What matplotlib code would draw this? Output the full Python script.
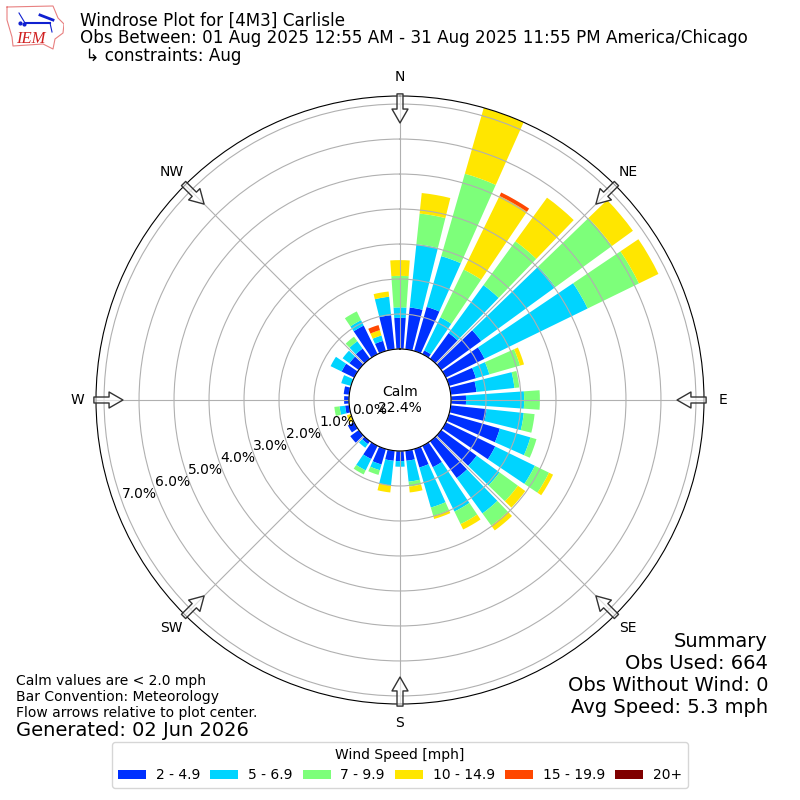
import numpy as np
import matplotlib
matplotlib.use("Agg")
import matplotlib.pyplot as plt

# direction of each bar, degrees
directions = np.arange(0, 360, 10)

# percent of obs per speed bin, per direction
bin_2_5 = [0.89, 1.20, 1.31, 0.12, 0.91, 1.41, 1.23, 0.80, 0.74, 0.43, 1.03, 1.51,
           1.57, 1.25, 1.30, 0.68, 0.55, 0.29, 0.29, 0.29, 0.46, 0.42, 0.10, 0.30,
           0.20, 0.00, 0.12, 0.14, 0.16, 0.00, 0.40, 0.33, 0.36, 0.91, 0.30, 0.98]
bin_5_7 = [0.30, 1.82, 1.51, 1.05, 1.69, 2.62, 3.28, 0.40, 1.09, 1.66, 1.07, 0.91,
           1.26, 0.81, 1.25, 1.41, 1.19, 0.60, 0.16, 0.71, 0.17, 0.36, 0.13, 0.00,
           0.00, 0.00, 0.16, 0.00, 0.00, 0.29, 0.35, 0.24, 0.26, 0.17, 0.16, 0.53]
bin_7_10 = [0.90, 0.88, 2.45, 1.52, 1.55, 2.00, 1.63, 0.91, 0.14, 0.45, 0.31, 0.18,
            0.45, 0.65, 0.43, 0.40, 0.25, 0.14, 0.00, 0.00, 0.14, 0.13, 0.00, 0.00,
            0.00, 0.00, 0.15, 0.00, 0.00, 0.00, 0.00, 0.00, 0.16, 0.28, 0.00, 0.00]
bin_10_15 = [0.45, 0.59, 1.96, 2.34, 1.54, 0.74, 0.62, 0.12, 0.00, 0.00, 0.00, 0.00,
             0.13, 0.26, 0.17, 0.17, 0.09, 0.17, 0.00, 0.20, 0.00, 0.00, 0.00, 0.00,
             0.00, 0.12, 0.00, 0.00, 0.00, 0.00, 0.00, 0.00, 0.00, 0.00, 0.16, 0.15]
bin_15_20 = [0.00, 0.00, 0.00, 0.11, 0.00, 0.00, 0.00, 0.00, 0.00, 0.00, 0.00, 0.00,
             0.00, 0.00, 0.00, 0.00, 0.00, 0.00, 0.00, 0.00, 0.00, 0.00, 0.00, 0.00,
             0.00, 0.00, 0.00, 0.00, 0.00, 0.00, 0.00, 0.00, 0.00, 0.00, 0.15, 0.00]
bin_20_up = [0.0] * 36

bins = [bin_2_5, bin_5_7, bin_7_10, bin_10_15, bin_15_20, bin_20_up]
bin_labels = ["2 - 4.9", "5 - 6.9", "7 - 9.9", "10 - 14.9", "15 - 19.9", "20+"]
bin_colors = ["#0030FF", "#00D4FF", "#7DFF7A", "#FFE600", "#FF4700", "#7F0000"]

compass = ["N", "NE", "E", "SE", "S", "SW", "W", "NW"]
ring_values = [0, 1, 2, 3, 4, 5, 6, 7]

fig = plt.figure(figsize=(8, 8), dpi=100)
ax = fig.add_axes([0.12, 0.12, 0.76, 0.76], projection="polar")
ax.set_theta_zero_location("N")
ax.set_theta_direction(-1)

# stack the bars
theta = np.radians(directions)
bottom = np.zeros(len(directions))
handles = []
for vals, label, color in zip(bins, bin_labels, bin_colors):
    bars = ax.bar(theta, vals, width=np.radians(8), bottom=bottom, color=color,
                  linewidth=0, label=label)
    handles.append(bars)
    bottom = bottom + np.array(vals)

ax.set_rorigin(-1.457)
ax.set_rlim(0, 7.23)
ax.set_yticks(ring_values)
ax.set_yticklabels(["%.1f%%" % v for v in ring_values], fontsize=10)
ax.set_rlabel_position(250)
ax.set_xticks(np.radians(np.arange(0, 360, 45)))
ax.set_xticklabels(compass, fontsize=10)
ax.tick_params(axis="x", pad=3)
ax.grid(True, color="#b0b0b0", linewidth=0.8)

# flow arrows around the edge
for ang in np.arange(0, 360, 45):
    ax.annotate("", xy=(np.radians(ang), 6.46), xytext=(np.radians(ang), 7.29),
                annotation_clip=False, zorder=5,
                arrowprops=dict(width=4.3, headwidth=11.5, headlength=10, shrink=0,
                                facecolor=(1, 1, 1, 0.6), edgecolor="#333333", linewidth=1))

ax.text(0.5, 0.5, "Calm\n22.4%", transform=ax.transAxes, ha="center", va="center",
        fontsize=10, zorder=6)

fig.text(0.1, 0.985, "Windrose Plot for [4M3] Carlisle", fontsize=12.02, va="top")
fig.text(0.1, 0.9635, "Obs Between: 01 Aug 2025 12:55 AM - 31 Aug 2025 11:55 PM America/Chicago",
         fontsize=12.02, va="top")
fig.text(0.1, 0.941, " \u21b3 constraints: Aug", fontsize=12.02, va="top")

fig.text(0.96, 0.104, "Summary\nObs Used: 664\nObs Without Wind: 0\nAvg Speed: 5.3 mph",
         fontsize=14, ha="right", va="bottom")
fig.text(0.02, 0.1, "Calm values are < 2.0 mph\nBar Convention: Meteorology\nFlow arrows relative to plot center.",
         fontsize=10, va="bottom")
fig.text(0.02, 0.075, "Generated: 02 Jun 2026", fontsize=14, va="bottom")

fig.legend(handles=handles, title="Wind Speed [mph]", ncol=6, loc="lower center",
           bbox_to_anchor=(0.5, 0.015), fontsize=10, title_fontsize=10, borderaxespad=0,
           handletextpad=0.7, columnspacing=0.75)

# IEM logo, drawn in pixel coordinates of its corner
logo = fig.add_axes([0, 0.92, 0.08, 0.08])
logo.set_xlim(0, 64)
logo.set_ylim(64, 0)
logo.axis("off")
outline_x = [7, 53, 58, 64, 63, 55, 53, 43, 13, 12, 7, 7]
outline_y = [7, 6, 18, 24, 33, 39, 49, 44, 46, 37, 20, 7]
logo.plot(outline_x, outline_y, color="#e88080", lw=0.8)
logo.plot([25, 50], [23, 23], color="#1020d0", lw=1.5)
logo.plot([19, 25], [13, 23], color="#1020d0", lw=0.8)
logo.plot([40, 53], [15, 20], color="#1020d0", lw=2)
logo.plot([50, 52], [23, 32], color="#1020d0", lw=0.8)
logo.plot([20, 24], [23, 24], "o", color="#1020d0", ms=2)
logo.text(30.5, 39, "IEM", family="Liberation Serif", style="italic", color="#d02020",
          fontsize=12, ha="center", va="center")

fig.savefig("out.png", dpi=100)
